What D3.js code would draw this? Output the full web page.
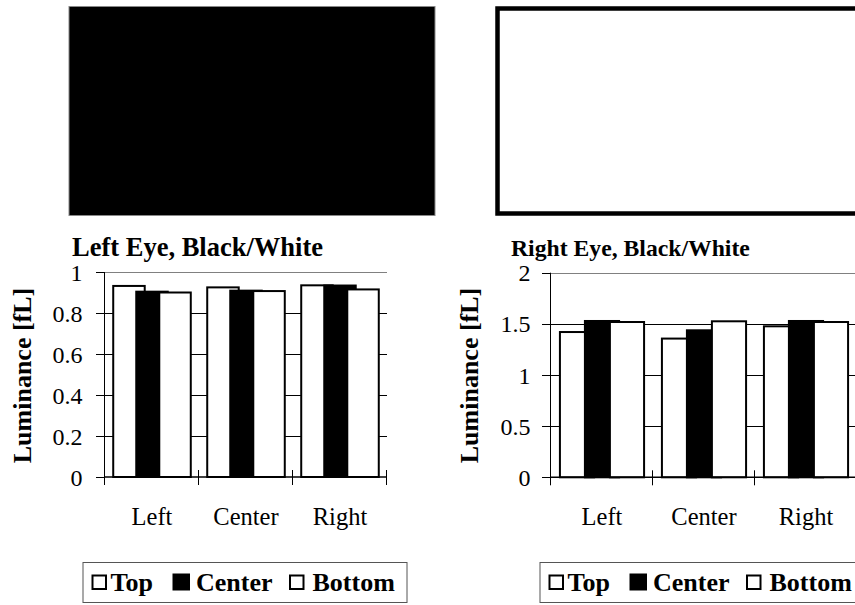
<!DOCTYPE html>
<html><head><meta charset="utf-8">
<script src="https://cdn.jsdelivr.net/npm/d3@7"></script>
<style>
html,body{margin:0;padding:0;background:#fff;}
svg{display:block;font-family:"Liberation Serif","Times New Roman",serif;}
</style></head>
<body>
<svg id="c" width="855" height="605"></svg>
<script>
// ---- data ----
const categories = ["Left", "Center", "Right"];
const seriesNames = ["Top", "Center", "Bottom"];
const seriesFill = ["#ffffff", "#000000", "#ffffff"];
const leftTitle = "Left Eye, Black/White";
const rightTitle = "Right Eye, Black/White";
const yLabel = "Luminance [fL]";
const leftTicks = [0, 0.2, 0.4, 0.6, 0.8, 1];
const leftTickLabels = ["0", "0.2", "0.4", "0.6", "0.8", "1"];
const rightTicks = [0, 0.5, 1, 1.5, 2];
const rightTickLabels = ["0", "0.5", "1", "1.5", "2"];
// values per series [Left, Center, Right]
const leftTop = [0.932, 0.925, 0.935];
const leftCenter = [0.904, 0.909, 0.934];
const leftBottom = [0.900, 0.907, 0.915];
const rightTop = [1.420, 1.356, 1.476];
const rightCenter = [1.528, 1.437, 1.528];
const rightBottom = [1.518, 1.525, 1.518];

const svg = d3.select("#c");
svg.append("rect").attr("width", 855).attr("height", 605).attr("fill", "#fff");

// top stimulus panels
svg.append("rect").attr("x", 69).attr("y", 6.5).attr("width", 366).attr("height", 209)
  .attr("fill", "#000").attr("stroke", "#888").attr("stroke-width", 1);
svg.append("rect").attr("x", 497.5).attr("y", 8.5).attr("width", 370).attr("height", 205)
  .attr("fill", "#fff").attr("stroke", "#000").attr("stroke-width", 4.5);

function chart(opt) {
  const g = svg.append("g");
  const x = d3.scaleBand().domain(categories).range([opt.x0, opt.x1]).paddingInner(0).paddingOuter(0);
  const y = d3.scaleLinear().domain([0, opt.ymax]).range([opt.yb, opt.yt]);
  const bw = x.bandwidth();
  const barW = bw * 0.335, step = bw * 0.245;
  const groupW = barW + 2 * step;

  // gridlines
  opt.ticks.forEach((t, i) => {
    if (t === 0) return;
    g.append("line").attr("x1", opt.x0).attr("x2", opt.x1)
      .attr("y1", Math.round(y(t)) + 0.5).attr("y2", Math.round(y(t)) + 0.5)
      .attr("stroke", i === opt.ticks.length - 1 ? "#808080" : "#000").attr("stroke-width", 1);
  });

  // bars
  const series = [opt.top, opt.center, opt.bottom];
  series.forEach((vals, s) => {
    g.selectAll(null).data(categories).enter().append("rect")
      .attr("x", d => x(d) + (bw - groupW) / 2 + s * step)
      .attr("y", (d, i) => y(vals[i]))
      .attr("width", barW)
      .attr("height", (d, i) => y(0) - y(vals[i]))
      .attr("fill", seriesFill[s]).attr("stroke", "#000").attr("stroke-width", 2);
  });

  // baseline
  g.append("line").attr("x1", opt.x0).attr("x2", opt.x1).attr("y1", y(0)).attr("y2", y(0))
    .attr("stroke", "#000").attr("stroke-width", 1.5);
  // y axis line
  const ax = Math.round(opt.x0) - 0.5;
  g.append("line").attr("x1", ax).attr("x2", ax).attr("y1", opt.yt).attr("y2", y(0) + 8)
    .attr("stroke", "#000").attr("stroke-width", 1);
  // y ticks and labels
  opt.ticks.forEach((t, i) => {
    const yy = Math.round(y(t)) + 0.5;
    g.append("line").attr("x1", ax - 8.5).attr("x2", ax).attr("y1", yy).attr("y2", yy)
      .attr("stroke", "#000").attr("stroke-width", 1);
    g.append("text").attr("x", ax - opt.labelGap).attr("y", y(t) + 8.5)
      .attr("text-anchor", "end").attr("font-size", 24).text(opt.tickLabels[i]);
  });
  // category boundary ticks
  categories.forEach(c => {
    const xx = Math.round(x(c) + bw) - 0.5;
    g.append("line").attr("x1", xx).attr("x2", xx).attr("y1", y(0) - 7).attr("y2", y(0) + 8)
      .attr("stroke", "#000").attr("stroke-width", 1);
    g.append("text").attr("x", x(c) + bw / 2).attr("y", 525)
      .attr("text-anchor", "middle").attr("font-size", 24.5).text(c);
  });
  // title
  g.append("text").attr("x", opt.titleX).attr("y", 255.5).attr("font-weight", "bold")
    .attr("font-size", opt.titleSize).text(opt.title);
  // y label
  g.append("text").attr("transform", `translate(${opt.ylabX},375.5) rotate(-90)`)
    .attr("text-anchor", "middle").attr("font-weight", "bold").attr("font-size", 26).text(yLabel);

  // legend
  const lx = opt.legendX;
  const lg = g.append("g");
  lg.append("rect").attr("x", lx + 0.5).attr("y", 562.5).attr("width", 324).attr("height", 40)
    .attr("fill", "#fff").attr("stroke", "#555").attr("stroke-width", 1);
  const sqX = [9, 90, 206.5];
  const txX = [28, 113.5, 230];
  seriesNames.forEach((n, s) => {
    if (s === 1) {
      lg.append("rect").attr("x", lx + sqX[s]).attr("y", 573.5).attr("width", 17.5).attr("height", 17)
        .attr("fill", "#000");
    } else {
      lg.append("rect").attr("x", lx + sqX[s] + 1).attr("y", 575.5).attr("width", 13.5).attr("height", 13.5)
        .attr("fill", "#fff").attr("stroke", "#000").attr("stroke-width", 2);
    }
    lg.append("text").attr("x", lx + txX[s]).attr("y", 590.5).attr("font-weight", "bold")
      .attr("font-size", 26).text(n);
  });
}

chart({x0: 105, x1: 387, yb: 477, yt: 272, ymax: 1, ticks: leftTicks, tickLabels: leftTickLabels,
  top: leftTop, center: leftCenter, bottom: leftBottom, labelGap: 22, title: leftTitle, titleX: 72,
  titleSize: 26.5, ylabX: 31, legendX: 82.5});
chart({x0: 551, x1: 857, yb: 477.3, yt: 272.7, ymax: 2, ticks: rightTicks, tickLabels: rightTickLabels,
  top: rightTop, center: rightCenter, bottom: rightBottom, labelGap: 20, title: rightTitle, titleX: 511,
  titleSize: 23.7, ylabX: 478, legendX: 539.5});
</script>
</body></html>
